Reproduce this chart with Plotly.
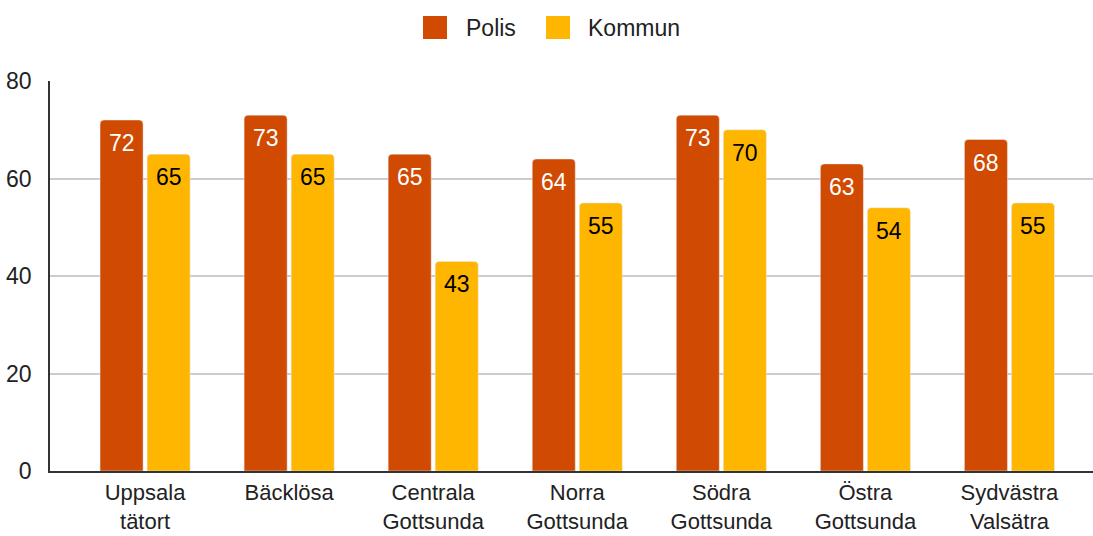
import plotly.graph_objects as go

categories = ["Uppsala<br>tätort", "Bäcklösa", "Centrala<br>Gottsunda", "Norra<br>Gottsunda",
              "Södra<br>Gottsunda", "Östra<br>Gottsunda", "Sydvästra<br>Valsätra"]
series_names = ["Polis", "Kommun"]
polis = [72, 73, 65, 64, 73, 63, 68]
kommun = [65, 65, 43, 55, 70, 54, 55]
y_ticks = [0, 20, 40, 60, 80]

FONT = "Arial, Liberation Sans, sans-serif"
C_POLIS = "#D04A02"
C_KOMMUN = "#FFB600"
TXT = "#222222"
FS = 23

# plot area in pixels (for paper-coordinate conversion of the legend)
L, R, T, B = 50, 0, 81, 65
W, H = 1093, 536
PW, PH = W - L - R, H - T - B

def px_x(p):
    return (p - L) / PW

def px_y(p):
    return (H - B - p) / PH

xi = list(range(len(categories)))

fig = go.Figure()
fig.add_trace(go.Bar(name=series_names[0], x=xi, y=polis, marker_color=C_POLIS, showlegend=False))
fig.add_trace(go.Bar(name=series_names[1], x=xi, y=kommun, marker_color=C_KOMMUN, showlegend=False))

annotations = []
for i, v in enumerate(polis):
    annotations.append(dict(x=i, y=v, xref="x", yref="y", text=str(v), showarrow=False,
                            xshift=-23.5, yshift=-23, font=dict(color="white", size=FS, family=FONT)))
for i, v in enumerate(kommun):
    annotations.append(dict(x=i, y=v, xref="x", yref="y", text=str(v), showarrow=False,
                            xshift=23.5, yshift=-23, font=dict(color="black", size=FS, family=FONT)))

# manual legend with large rounded squares
shapes = []
legend_items = [(series_names[0], C_POLIS, 423, 464), (series_names[1], C_KOMMUN, 546, 586)]
for name, col, sx, tx in legend_items:
    shapes.append(dict(type="rect", xref="paper", yref="paper",
                       x0=px_x(sx), x1=px_x(sx + 24), y0=px_y(16), y1=px_y(39),
                       fillcolor=col, line=dict(width=0), layer="above"))
    annotations.append(dict(x=px_x(tx), y=px_y(28), xref="paper", yref="paper", text=name,
                            showarrow=False, xanchor="left", yanchor="middle",
                            font=dict(size=FS, family=FONT, color=TXT)))

fig.update_layout(
    width=W, height=H,
    margin=dict(l=L, r=R, t=T, b=B, autoexpand=False),
    paper_bgcolor="white", plot_bgcolor="white",
    font=dict(family=FONT, size=FS, color=TXT),
    barmode="group", bargap=0.347, bargroupgap=0.085, barcornerradius=4,
    showlegend=False,
    annotations=annotations, shapes=shapes,
)
fig.update_yaxes(range=[0, 80], tickvals=y_ticks, showgrid=True, gridcolor="#CCCCCC", gridwidth=1.5,
                 showline=True, linecolor="#333333", linewidth=1.5, ticks="", zeroline=False,
                 ticklabelstandoff=12, automargin=False)
fig.update_xaxes(type="linear", range=[-0.66, 6.58], tickvals=xi, ticktext=categories,
                 showgrid=False, zeroline=False, ticklabelstandoff=1, tickfont=dict(size=22),
                 showline=True, linecolor="#333333", linewidth=1.5, ticks="", automargin=False)

fig.write_html("out.html", config={"displayModeBar": False},
               post_script="document.body.style.margin='0';document.body.style.overflow='hidden';")
